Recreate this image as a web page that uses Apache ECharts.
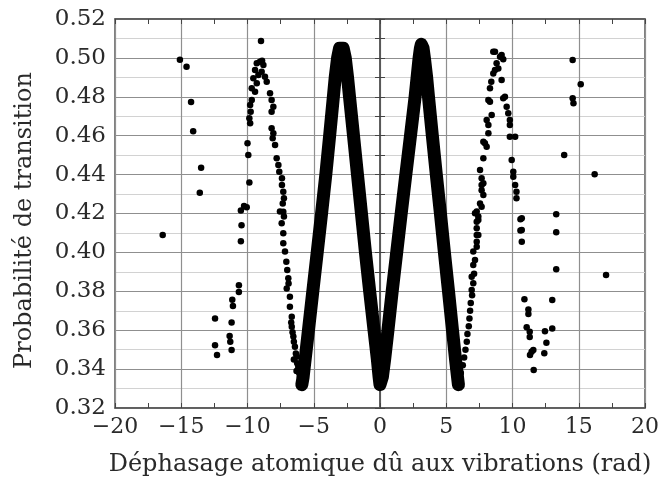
<!DOCTYPE html>
<html>
<head>
<meta charset="utf-8">
<script src="https://cdn.jsdelivr.net/npm/echarts@6/dist/echarts.min.js"></script>
<style>
html,body{margin:0;padding:0;background:#fff;}
#chart{width:662px;height:482px;}
</style>
</head>
<body>
<div id="chart"></div>
<script>
// Axis settings / labels
const xTitle = 'Déphasage atomique dû aux vibrations (rad)';
const yTitle = 'Probabilité de transition';
const xTicks = [-20, -15, -10, -5, 0, 5, 10, 15, 20];
const yTicks = [0.32, 0.34, 0.36, 0.38, 0.40, 0.42, 0.44, 0.46, 0.48, 0.50, 0.52];

// Dense central band: x centre of the band read at each probability level
const bandLevels     = [0.332, 0.336, 0.345, 0.36, 0.38, 0.40, 0.42, 0.44, 0.46, 0.48, 0.49, 0.50, 0.505];
const bandRiseLeft   = [-5.9, -5.8, -5.65, -5.4, -5.07, -4.74, -4.41, -4.09, -3.8, -3.52, -3.38, -3.2, -3.05];
const bandFallLeft   = [0.0, -0.07, -0.2, -0.45, -0.78, -1.1, -1.4, -1.7, -2.0, -2.3, -2.45, -2.62, -2.78];
const bandRiseRight  = [0.1, 0.18, 0.35, 0.6, 0.92, 1.26, 1.6, 1.95, 2.3, 2.65, 2.8, 2.95, 3.05];
const bandFallRight  = [5.92, 5.85, 5.7, 5.47, 5.17, 4.86, 4.56, 4.25, 3.95, 3.66, 3.52, 3.35, 3.25];
const peakLeft = [-2.92, 0.5045];
const peakRight = [3.12, 0.507];

// Individual points (x in rad, y probability)
const outerLeft = [[-16.4,0.409],[-15.1,0.499],[-14.6,0.4955],[-14.26,0.4773],[-14.1,0.4623],
  [-13.5,0.4435],[-13.6,0.4307],[-12.45,0.366],[-12.45,0.3522],[-12.3,0.3472],
  [-11.15,0.3757],[-11.1,0.3724],[-11.2,0.364],[-11.35,0.357],[-11.3,0.354],[-11.2,0.3498],
  [-10.65,0.3831],[-10.65,0.3796],[-10.5,0.4057],[-10.45,0.4139],[-10.5,0.4215],
  [-10.26,0.4239],[-10.06,0.4232],[-9.86,0.436]];
const humpLeft = [[-8.98,0.5087],[-9.06,0.498],[-9.3,0.4972],[-8.8,0.4963],[-8.9,0.4985],
  [-9.43,0.4938],[-8.93,0.4929],[-9.18,0.4912],[-8.68,0.4903],[-9.56,0.4895],[-8.55,0.4878],
  [-9.3,0.487],[-9.68,0.4844],[-9.43,0.4826],[-8.3,0.4818],[-8.18,0.4784],[-9.68,0.4784],
  [-9.8,0.4758],[-8.05,0.4749],[-8.18,0.4723],[-9.76,0.4723],[-9.86,0.469],[-9.8,0.4664],
  [-8.18,0.4638],[-8.05,0.4612],[-8.1,0.4587],[-7.92,0.4552],[-10.0,0.4561],[-9.94,0.4501],
  [-7.8,0.4484],[-7.67,0.4449],[-7.6,0.4415],[-7.4,0.4381],[-7.4,0.4346],[-7.3,0.4312],
  [-7.25,0.4278],[-7.34,0.4252],[-7.3,0.4209],[-7.25,0.4184]];
const valleyLeft = [[-7.55,0.421],[-7.42,0.415],[-7.3,0.4098],[-7.3,0.4047],[-7.17,0.4004],
  [-7.07,0.3952],[-7.0,0.3909],[-6.92,0.3867],[-6.9,0.384],[-7.04,0.3815],[-6.8,0.3772],
  [-6.8,0.372],[-6.66,0.3669],[-6.7,0.364],[-6.66,0.3618],[-6.6,0.359],[-6.54,0.3567],
  [-6.5,0.354],[-6.42,0.3515],[-6.35,0.348],[-6.5,0.345],[-6.29,0.3464],[-6.25,0.343],
  [-6.17,0.3412],[-6.3,0.339],[-6.1,0.338],[-6.04,0.3361]];
const valleyRight = [[6.1,0.338],[6.25,0.342],[6.35,0.346],[6.45,0.35],[6.55,0.354],
  [6.6,0.358],[6.7,0.362],[6.75,0.366],[6.8,0.37],[6.85,0.374],[6.95,0.378],
  [6.92,0.3807],[7.04,0.3841],[6.92,0.3875],[7.1,0.389],[7.04,0.3935],[7.17,0.3961],
  [7.04,0.4004],[7.3,0.4029],[7.3,0.4055],[7.42,0.4089],[7.3,0.4124],[7.3,0.4158],
  [7.42,0.4184],[7.17,0.4201],[7.55,0.4252],[7.67,0.4235],[7.8,0.4355],[7.67,0.432],[7.8,0.4295]];
const humpRight = [[8.55,0.5032],[8.68,0.5032],[9.06,0.5006],[9.18,0.5015],[9.3,0.4993],
  [8.8,0.4972],[8.68,0.4938],[8.93,0.4946],[8.55,0.492],[8.4,0.4878],[9.18,0.4886],
  [8.3,0.4844],[9.43,0.48],[9.3,0.4792],[8.18,0.4784],[8.3,0.4775],[9.56,0.4749],
  [9.68,0.4715],[8.43,0.4706],[8.05,0.4681],[8.18,0.4655],[9.8,0.4681],[9.8,0.4655],
  [8.18,0.4612],[9.8,0.4595],[10.2,0.4595],[7.8,0.4569],[8.05,0.4543],[7.92,0.4561],
  [7.8,0.4484],[9.94,0.4475],[7.55,0.4424],[7.67,0.4381],[10.06,0.4415],[10.06,0.4389],
  [7.67,0.4346],[10.2,0.4346],[10.3,0.4312],[10.3,0.4278],[7.3,0.421],[7.42,0.4167],
  [7.3,0.4089],[10.7,0.4175],[10.7,0.4115],[10.7,0.4055],[10.6,0.417],[10.6,0.4112]];
const outerRight = [[14.54,0.4989],[15.15,0.4864],[14.54,0.4792],[14.6,0.4767],[13.9,0.4501],
  [16.2,0.4402],[13.3,0.4196],[13.3,0.4103],[13.3,0.3913],[17.06,0.3884],[10.9,0.3759],
  [13.0,0.3755],[11.2,0.3707],[11.2,0.3683],[11.07,0.3615],[11.3,0.3592],[11.3,0.3565],
  [12.45,0.3595],[13.0,0.3609],[12.56,0.3535],[11.44,0.3489],[11.57,0.3498],[11.32,0.3473],
  [12.4,0.3481],[11.6,0.3395]];

const FONT = 'DejaVu Serif';
// Dense band traced as one continuous path through the read centres
const band = [];
bandRiseLeft.forEach((x, i) => band.push([x, bandLevels[i]]));
band.push(peakLeft);
for (let i = bandFallLeft.length - 1; i >= 0; i--) band.push([bandFallLeft[i], bandLevels[i]]);
bandRiseRight.forEach((x, i) => band.push([x, bandLevels[i]]));
band.push(peakRight);
for (let i = bandFallRight.length - 1; i >= 0; i--) band.push([bandFallRight[i], bandLevels[i]]);
const sparse = [].concat(outerLeft, humpLeft, valleyLeft, valleyRight, humpRight, outerRight);

const fmtX = v => (v < 0 ? '\u2212' + Math.abs(v) : String(v));
const tickStyle = {color: '#444', width: 1};
const textColor = '#2a2a2a';

const chart = echarts.init(document.getElementById('chart'), null, {renderer: 'canvas'});
chart.setOption({
  animation: false,
  backgroundColor: '#fff',
  grid: {left: 115, right: 17, top: 19, bottom: 74, show: true, borderColor: '#555', borderWidth: 1.5, backgroundColor: 'transparent'},
  xAxis: [{
    type: 'value', min: xTicks[0], max: xTicks[xTicks.length - 1], interval: 5, position: 'bottom',
    name: xTitle, nameLocation: 'middle', nameGap: 45,
    nameTextStyle: {fontFamily: FONT, fontSize: 24, color: textColor},
    axisLine: {show: true, lineStyle: {color: '#555', width: 1.5}},
    axisTick: {show: true, inside: true, length: 5, lineStyle: tickStyle},
    minorTick: {show: true, splitNumber: 2, length: 5, lineStyle: tickStyle},
    axisLabel: {fontFamily: FONT, fontSize: 22, color: textColor, margin: 8, formatter: fmtX},
    splitLine: {show: true, lineStyle: {color: '#8f8f8f', width: 1.2}}
  }, {
    type: 'value', min: xTicks[0], max: xTicks[xTicks.length - 1], interval: 5, position: 'top',
    axisLine: {show: true, lineStyle: {color: '#555', width: 1.5}},
    axisTick: {show: true, inside: true, length: 5, lineStyle: tickStyle},
    minorTick: {show: true, splitNumber: 2, length: 5, lineStyle: tickStyle},
    axisLabel: {show: false}, splitLine: {show: false}
  }],
  yAxis: [{
    type: 'value', min: yTicks[0], max: yTicks[yTicks.length - 1], interval: 0.02, position: 'left',
    name: yTitle, nameLocation: 'middle', nameGap: 78,
    nameTextStyle: {fontFamily: FONT, fontSize: 24, color: textColor, padding: [0, 14, 0, 0]},
    axisLine: {show: true, lineStyle: {color: '#555', width: 1.5}},
    axisTick: {show: true, inside: true, length: 5, lineStyle: tickStyle},
    minorTick: {show: true, splitNumber: 2, length: 5, lineStyle: tickStyle},
    axisLabel: {fontFamily: FONT, fontSize: 23, color: textColor, margin: 9, formatter: v => v.toFixed(2)},
    splitLine: {show: true, lineStyle: {color: '#8f8f8f', width: 1.2}},
    minorSplitLine: {show: true, lineStyle: {color: '#d2d2d2', width: 1}}
  }, {
    type: 'value', min: yTicks[0], max: yTicks[yTicks.length - 1], interval: 0.02, position: 'right',
    axisLine: {show: true, lineStyle: {color: '#555', width: 1.5}},
    axisTick: {show: true, inside: true, length: 5, lineStyle: tickStyle},
    minorTick: {show: true, splitNumber: 2, length: 5, lineStyle: tickStyle},
    axisLabel: {show: false}, splitLine: {show: false}
  }],
  series: [{
    type: 'line', xAxisIndex: 0, yAxisIndex: 0, data: band,
    showSymbol: false, symbol: 'none', smooth: false,
    lineStyle: {color: '#000', width: 13, cap: 'round', join: 'round'}, z: 3
  }, {
    type: 'scatter', xAxisIndex: 0, yAxisIndex: 0, data: sparse,
    symbol: 'circle', symbolSize: 6.5, itemStyle: {color: '#000', opacity: 1}, z: 3
  }]
});
</script>
</body>
</html>
